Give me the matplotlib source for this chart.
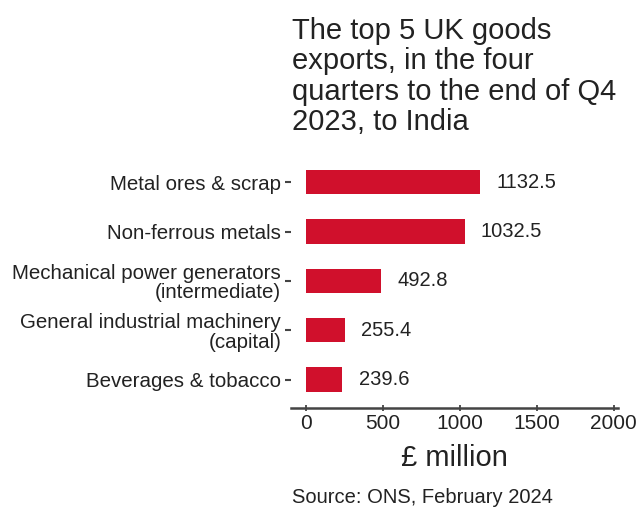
import matplotlib
matplotlib.use("Agg")
import matplotlib.pyplot as plt

plt.rcParams['font.family'] = ['Liberation Sans', 'DejaVu Sans']

categories = ["Beverages & tobacco",
              "General industrial machinery\n(capital)",
              "Mechanical power generators\n(intermediate)",
              "Non-ferrous metals",
              "Metal ores & scrap"]
values = [239.6, 255.4, 492.8, 1032.5, 1132.5]
xticks = [0, 500, 1000, 1500, 2000]

bar_color = "#d0102c"
text_color = "#222222"

fig = plt.figure(figsize=(6.38, 5.07), dpi=100)
ax = fig.add_axes([0.456, 0.195, 0.513, 0.502])

y = range(len(categories))
ax.barh(y, values, height=0.49, color=bar_color)
for yi, v in zip(y, values):
    ax.text(v + 105, yi, f"{v:.1f}", va='center', ha='left', fontsize=14.5, color=text_color)

ax.set_xlim(-95, 2030)
ax.set_ylim(-0.58, 4.58)
ax.set_yticks(list(y))
ax.set_yticklabels(categories, fontsize=14.8, color=text_color, linespacing=1.02)
ax.set_xticks(xticks)
ax.set_xticklabels([str(t) for t in xticks], fontsize=15, color=text_color)
ax.tick_params(axis='y', length=4, width=1.5, color='#444444', pad=3)
ax.tick_params(axis='x', length=5, width=1.3, color='#444444', pad=2, direction='inout')

for s in ['top', 'right', 'left']:
    ax.spines[s].set_visible(False)
ax.spines['bottom'].set_color('#444444')
ax.spines['bottom'].set_linewidth(1.8)

ax.set_xlabel("£ million", fontsize=21, color=text_color, labelpad=8)

fig.text(0.457, 0.966, "The top 5 UK goods\nexports, in the four\nquarters to the end of Q4\n2023, to India",
         ha='left', va='top', fontsize=21, color=text_color, linespacing=1.1)
fig.text(0.457, 0.008, "Source: ONS, February 2024", ha='left', va='baseline', fontsize=14.5, color=text_color)

fig.savefig("out.png", dpi=100)
